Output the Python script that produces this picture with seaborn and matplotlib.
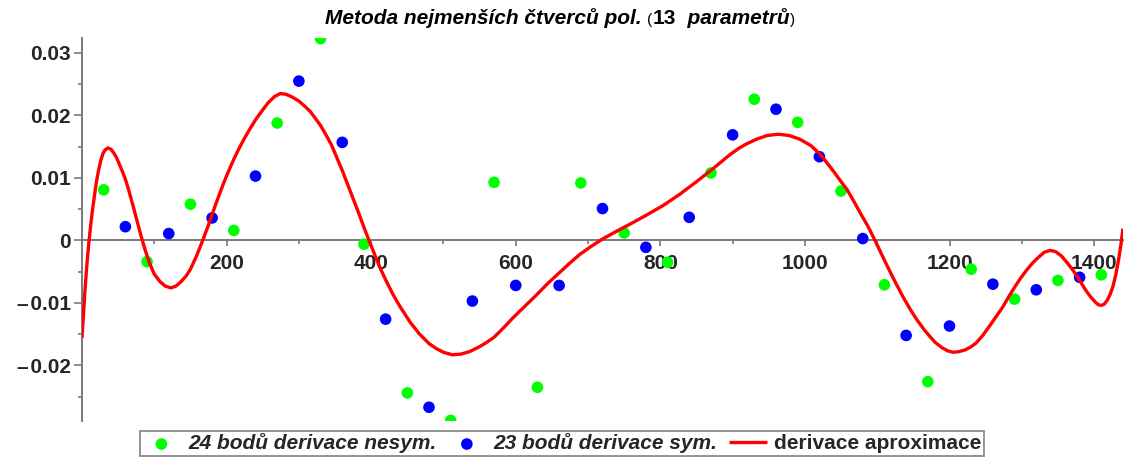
import numpy as np
import pandas as pd
import matplotlib
matplotlib.use("Agg")
import matplotlib.pyplot as plt
import seaborn as sns
from matplotlib.ticker import MultipleLocator
from matplotlib.offsetbox import TextArea, HPacker, AnchoredOffsetbox

# Non-symmetric difference derivative (24 points)
x_nesym = [30, 90, 150, 210, 270, 330, 390, 450, 510, 570, 630, 690,
           750, 810, 870, 930, 990, 1050, 1110, 1170, 1230, 1290, 1350, 1410]
y_nesym = [0.0081, -0.0034, 0.0058, 0.0016, 0.0188, 0.0323, -0.0006, -0.0244,
           -0.0288, 0.0093, -0.0235, 0.0092, 0.0012, -0.0035, 0.0108, 0.0226,
           0.0189, 0.0079, -0.0071, -0.0226, -0.0046, -0.0094, -0.0064, -0.0055]

# Symmetric difference derivative (23 points)
x_sym = [60, 120, 180, 240, 300, 360, 420, 480, 540, 600, 660, 720,
         780, 840, 900, 960, 1020, 1080, 1140, 1200, 1260, 1320, 1380]
y_sym = [0.0022, 0.0011, 0.0036, 0.0103, 0.0255, 0.0157, -0.0126, -0.0267,
         -0.0097, -0.0072, -0.0072, 0.0051, -0.0011, 0.0037, 0.0169, 0.0210,
         0.0134, 0.0003, -0.0152, -0.0137, -0.0070, -0.0079, -0.0059]

# Derivative of the least-squares polynomial (13 parameters)
x_fit = [0, 2, 4, 6, 8, 10, 12, 14, 17, 20, 23, 26, 29, 32, 36, 40, 44, 48,
         52, 56, 60, 65, 70, 75, 81, 87, 93, 100, 108, 115, 123, 130, 137,
         144, 150, 158, 167, 175, 185, 195, 202, 210, 218, 225, 232, 240, 250,
         258, 266, 274, 282, 290, 300, 308, 316, 323, 330, 338, 345, 352, 360,
         368, 375, 383, 390, 397, 405, 412, 420, 430, 440, 454, 467, 480, 490,
         500, 512, 524, 536, 550, 560, 570, 583, 596, 612, 628, 645, 662, 675,
         689, 705, 721, 740, 758, 780, 804, 827, 850, 873, 896, 908, 920, 933,
         948, 963, 978, 993, 1008, 1021, 1030, 1040, 1050, 1058, 1068, 1076,
         1087, 1097, 1106, 1116, 1126, 1136, 1146, 1155, 1165, 1173, 1180,
         1190, 1198, 1205, 1213, 1222, 1230, 1237, 1246, 1256, 1265, 1274,
         1282, 1290, 1298, 1307, 1315, 1323, 1331, 1339, 1347, 1355, 1363,
         1371, 1380, 1388, 1395, 1402, 1406, 1410, 1414, 1418, 1422, 1426,
         1430, 1434, 1437, 1440]
y_fit = [-0.0156, -0.0118, -0.0082, -0.0050, -0.0022, 0.0002, 0.0024, 0.0044,
         0.0070, 0.0094, 0.0113, 0.0128, 0.0139, 0.0145, 0.0148, 0.0146,
         0.0140, 0.0132, 0.0121, 0.0110, 0.0098, 0.0079, 0.0058, 0.0036,
         0.0010, -0.0014, -0.0035, -0.0054, -0.0066, -0.0073, -0.0076,
         -0.0073, -0.0066, -0.0057, -0.0046, -0.0026, 0.0000, 0.0025, 0.0058,
         0.0089, 0.0109, 0.0130, 0.0149, 0.0164, 0.0178, 0.0193, 0.0209,
         0.0221, 0.0230, 0.0235, 0.0234, 0.0230, 0.0223, 0.0215, 0.0206,
         0.0195, 0.0184, 0.0168, 0.0153, 0.0134, 0.0112, 0.0088, 0.0067,
         0.0043, 0.0021, 0.0000, -0.0023, -0.0043, -0.0063, -0.0086, -0.0106,
         -0.0131, -0.0150, -0.0165, -0.0173, -0.0179, -0.0183, -0.0182,
         -0.0178, -0.0170, -0.0163, -0.0155, -0.0140, -0.0124, -0.0106,
         -0.0088, -0.0068, -0.0050, -0.0036, -0.0022, -0.0009, 0.0003, 0.0015,
         0.0026, 0.0040, 0.0056, 0.0074, 0.0094, 0.0115, 0.0137, 0.0147,
         0.0155, 0.0162, 0.0168, 0.0170, 0.0168, 0.0162, 0.0152, 0.0138,
         0.0125, 0.0110, 0.0094, 0.0082, 0.0062, 0.0045, 0.0023, 0.0000,
         -0.0022, -0.0046, -0.0069, -0.0091, -0.0111, -0.0127, -0.0143,
         -0.0154, -0.0163, -0.0172, -0.0177, -0.0179, -0.0178, -0.0175,
         -0.0170, -0.0164, -0.0152, -0.0136, -0.0121, -0.0106, -0.0090,
         -0.0075, -0.0061, -0.0047, -0.0036, -0.0027, -0.0019, -0.0016,
         -0.0018, -0.0025, -0.0036, -0.0048, -0.0064, -0.0079, -0.0090,
         -0.0099, -0.0103, -0.0104, -0.0102, -0.0096, -0.0087, -0.0074,
         -0.0055, -0.0030, -0.0008, 0.0019]

x_ticks = [200, 400, 600, 800, 1000, 1200, 1400]
y_ticks = [-0.02, -0.01, 0, 0.01, 0.02, 0.03]
y_ticklabels = ["\u2013\u200a0.02", "\u2013\u200a0.01", "0", "0.01", "0.02", "0.03"]

label_nesym = "24 bodů derivace nesym."
label_sym = "23 bodů derivace sym."
label_fit = "derivace aproximace"

sns.set_theme(style="white")
plt.rcParams["font.family"] = ["Liberation Sans", "DejaVu Sans"]

W, H = 1126, 461
fig = plt.figure(figsize=(W / 100, H / 100), dpi=100)
ax = fig.add_axes([82 / W, 1 - 421 / H, (1123 - 82) / W, (421 - 38) / H])

sns.scatterplot(x=x_nesym, y=y_nesym, ax=ax, color="#00ff00", s=70,
                edgecolor="none", label=label_nesym, zorder=3)
sns.scatterplot(x=x_sym, y=y_sym, ax=ax, color="#0000ff", s=70,
                edgecolor="none", label=label_sym, zorder=3)
sns.lineplot(x=x_fit, y=y_fit, ax=ax, color="#ff0000", lw=2.4, sort=False,
             estimator=None, label=label_fit, zorder=4,
             solid_joinstyle="round", solid_capstyle="butt")

ax.set_xlim(0, 1440)
ax.set_ylim(-0.0289, 0.0324)

axis_grey = "#7a7a7a"
for side in ("top", "right"):
    ax.spines[side].set_visible(False)
ax.spines["bottom"].set_position(("data", 0))
for side in ("left", "bottom"):
    ax.spines[side].set_color(axis_grey)
    ax.spines[side].set_linewidth(1.4)

ax.set_xticks(x_ticks)
ax.set_xticklabels([str(t) for t in x_ticks])
ax.xaxis.set_minor_locator(MultipleLocator(100))
ax.set_yticks(y_ticks)
ax.set_yticklabels(y_ticklabels)
ax.yaxis.set_minor_locator(MultipleLocator(0.005))

ax.tick_params(axis="x", which="major", direction="out", length=4.5, width=1.2,
               color=axis_grey, pad=5, labelsize=15)
ax.tick_params(axis="x", which="minor", direction="out", length=3, width=1.2,
               color=axis_grey)
ax.tick_params(axis="y", which="major", direction="out", length=6, width=1.2,
               color=axis_grey, pad=2, labelsize=15)
ax.tick_params(axis="y", which="minor", direction="out", length=3, width=1.2,
               color=axis_grey)
ax.tick_params(bottom=True, left=True, which="both")
for lab in ax.get_xticklabels() + ax.get_yticklabels():
    lab.set_fontweight("bold")
ax.set_xlabel("")
ax.set_ylabel("")

# Legend along the bottom edge
handles, labels = ax.get_legend_handles_labels()
ax.get_legend().remove()
leg = fig.legend(handles, labels, loc="center", bbox_to_anchor=(562 / W, 1 - 443.5 / H),
                 ncol=3, frameon=True, fancybox=False, edgecolor=axis_grey,
                 fontsize=15, handlelength=1.85, handletextpad=0.35,
                 columnspacing=0.55, borderpad=0.12, borderaxespad=0,
                 markerscale=1.0)
leg.get_frame().set_linewidth(1.4)
for i, t in enumerate(leg.get_texts()):
    t.set_fontweight("bold")
    if i < 2:
        t.set_fontstyle("italic")

# Title made of mixed-style pieces
pieces = [
    ("Metoda nejmenších čtverců pol. ", dict(weight="bold", style="italic", size=15)),
    ("(", dict(size=11)),
    ("13", dict(weight="bold", size=15)),
    ("  parametrů", dict(weight="bold", style="italic", size=15)),
    (")", dict(size=11)),
]
boxes = [TextArea(t, textprops=dict(color="black", **p)) for t, p in pieces]
title_box = HPacker(children=boxes, align="baseline", pad=0, sep=0)
anchored = AnchoredOffsetbox(loc="center", child=title_box, frameon=False,
                             bbox_to_anchor=(560 / W, 1 - 18 / H),
                             bbox_transform=fig.transFigure, pad=0, borderpad=0)
fig.add_artist(anchored)

fig.savefig("out.png", dpi=100)
